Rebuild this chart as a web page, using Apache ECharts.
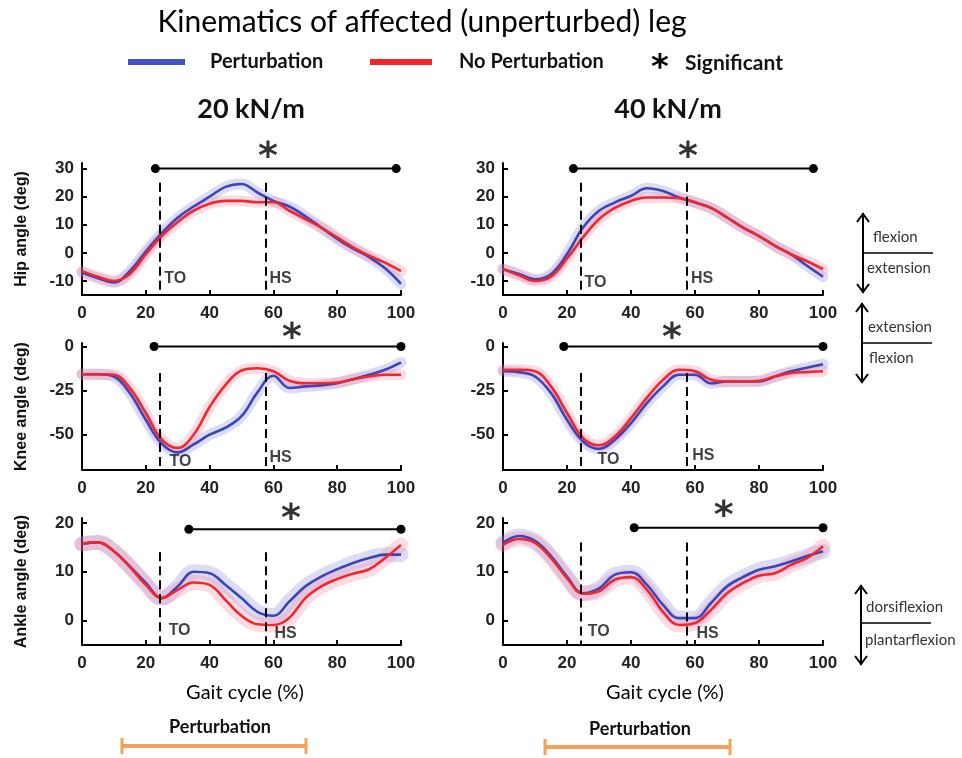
<!DOCTYPE html>
<html>
<head>
<meta charset="utf-8">
<title>Kinematics of affected (unperturbed) leg</title>
<script src="https://cdn.jsdelivr.net/npm/echarts@6/dist/echarts.min.js"></script>
<style>
html, body { margin: 0; padding: 0; background: #fff; }
#chart { width: 962px; height: 758px; }
</style>
</head>
<body>
<div id="chart"></div>
<script>
// gait cycle (%) sample points
var gaitX = [0, 5, 10, 15, 20, 25, 30, 35, 40, 45, 50, 55, 60, 65, 70, 75, 80, 85, 90, 95, 100];

// hip angle (deg)
var hip20Pert   = [-7, -9, -10.5, -6.5, 0.5, 7, 12.5, 16.5, 20, 23.5, 24.5, 21.5, 18.5, 16.5, 13, 9, 5, 1.5, -1.5, -5.5, -11];
var hip20NoPert = [-6.5, -8.5, -10, -7.5, -0.5, 6, 11, 15, 17.5, 18.5, 18.5, 18, 18, 15, 12, 9, 5.5, 2, -1, -3.5, -6.5];
var hip40Pert   = [-5.8, -7.5, -9.4, -7.6, -0.5, 9, 15, 18, 20.3, 23, 22, 19.7, 17.9, 16, 12.6, 9, 6, 2.5, -0.5, -4.6, -8.5];
var hip40NoPert = [-5.8, -8, -10, -8.5, -2, 5.5, 12, 16, 18.5, 19.7, 19.7, 19.5, 18, 16, 12.6, 9, 6, 2.5, -0.5, -3, -5.8];

// knee angle (deg)
var knee20Pert   = [-15.7, -15.7, -17, -26.4, -41.5, -55, -60, -55.5, -50, -46, -39.5, -26, -16.6, -23.5, -22.6, -22, -20.8, -18.5, -16, -13.2, -9];
var knee20NoPert = [-15.7, -15.7, -16, -23.6, -37.7, -52.8, -57.5, -50, -34.3, -21.7, -13.6, -12.3, -14, -19.4, -20.8, -20.8, -20.4, -18.5, -17, -16, -16];
var knee40Pert   = [-14, -14.5, -17, -26.4, -41.5, -53.8, -58, -52.8, -43.4, -32, -22.6, -16, -16, -20.8, -19.8, -19.8, -19.8, -17, -14, -12, -10];
var knee40NoPert = [-13.2, -13.2, -14, -22.6, -37.7, -51.9, -56, -51, -40.6, -29, -18.9, -13.2, -14, -18.9, -19.8, -19.8, -19.4, -17, -15, -14.5, -14];

// ankle angle (deg)
var ankle20Pert   = [15.7, 16, 14.2, 11.1, 7.7, 4.6, 7, 10, 9.7, 7.3, 4.6, 1.8, 1, 3.9, 7, 9, 10.5, 11.8, 12.8, 13.5, 13.5];
var ankle20NoPert = [15.7, 16, 14.2, 11, 7.3, 4.6, 6.3, 7.8, 7.3, 4.2, 1, -0.75, -0.9, 0.6, 4.6, 7, 8.5, 9.6, 10.5, 12.8, 15.5];
var ankle40Pert   = [15.9, 17.3, 16.3, 13.2, 9, 5.6, 6.6, 9.4, 9.9, 7.3, 3.2, 0.5, 0.5, 3.6, 7, 8.9, 10.4, 11.1, 12.1, 13.2, 14.2];
var ankle40NoPert = [15.5, 16.7, 15.9, 12.8, 8.7, 5.5, 6, 8.4, 8.9, 6.3, 1.8, -0.9, -0.5, 2.2, 5.6, 7.7, 9.2, 9.7, 11.4, 12.8, 15.2];

// significance bars: [start %, end %, level]
var hip20Sig = [23, 98.5, 30], hip40Sig = [22, 97, 30];
var knee20Sig = [22.6, 100, 0], knee40Sig = [19, 100, 0];
var ankle20Sig = [33.5, 100, 18.7], ankle40Sig = [41, 100, 19];

// toe-off / heel-strike (%)
var events20 = [24.5, 57.5], events40 = [24.2, 57.5];

// tick labels
var xTicks = [0, 20, 40, 60, 80, 100];
var hipTicks = [-10, 0, 10, 20, 30];
var kneeTicks = [-50, -25, 0];
var ankleTicks = [0, 10, 20];

var BLUE = '#3a45bb', RED = '#f2262b';
var chart = echarts.init(document.getElementById('chart'));

var panels = [
	{ grid: { left: 82, top: 163, width: 319, height: 132 }, min: -15, max: 32, ticks: hipTicks, name: 'Hip angle (deg)',
	  pert: hip20Pert, noPert: hip20NoPert, sig: hip20Sig, star: [58.3, 36.5], ev: events20, evTop: 25, band: 11,
	  evLabels: [[25.6, -9.3], [58.6, -9.3]] },
	{ grid: { left: 503, top: 163, width: 320, height: 132 }, min: -15, max: 32, ticks: hipTicks, name: '',
	  pert: hip40Pert, noPert: hip40NoPert, sig: hip40Sig, star: [57.8, 36.5], ev: events40, evTop: 25, band: 11,
	  evLabels: [[25.3, -10.5], [58.6, -9.3]] },
	{ grid: { left: 82, top: 343, width: 319, height: 127 }, min: -70, max: 2, ticks: kneeTicks, name: 'Knee angle (deg)',
	  pert: knee20Pert, noPert: knee20NoPert, sig: knee20Sig, star: [65.8, 8.5], ev: events20, evTop: -15, band: 11,
	  evLabels: [[27.3, -65], [58.6, -63]] },
	{ grid: { left: 503, top: 343, width: 320, height: 127 }, min: -70, max: 2, ticks: kneeTicks, name: '',
	  pert: knee40Pert, noPert: knee40NoPert, sig: knee40Sig, star: [52.8, 8.5], ev: events40, evTop: -15, band: 11,
	  evLabels: [[29.4, -64], [59, -62]] },
	{ grid: { left: 82, top: 518, width: 319, height: 127 }, min: -5, max: 21, ticks: ankleTicks, name: 'Ankle angle (deg)',
	  pert: ankle20Pert, noPert: ankle20NoPert, sig: ankle20Sig, star: [65.5, 22.3], ev: events20, evTop: 14, band: 15,
	  evLabels: [[27, -2], [60.2, -2.7]] },
	{ grid: { left: 503, top: 518, width: 320, height: 127 }, min: -5, max: 21, ticks: ankleTicks, name: '',
	  pert: ankle40Pert, noPert: ankle40NoPert, sig: ankle40Sig, star: [69, 22.9], ev: events40, evTop: 16, band: 15,
	  evLabels: [[26.3, -2.2], [60.3, -2.7]] }
];

function pairs(arr) {
	return gaitX.map(function (x, k) { return [x, arr[k]]; });
}

var axisLineStyle = { color: '#000', width: 2 };
var tickFont = { fontFamily: 'Liberation Sans', fontWeight: 'bold', fontSize: 17, color: '#222' };

var grids = [], xAxes = [], yAxes = [], series = [];
panels.forEach(function (p, i) {
	grids.push(p.grid);
	xAxes.push({
		gridIndex: i, type: 'value', min: 0, max: 100, interval: 20,
		axisLine: { show: true, onZero: false, lineStyle: axisLineStyle },
		axisTick: { show: true, inside: true, length: 5, lineStyle: axisLineStyle },
		axisLabel: Object.assign({ margin: 10 }, tickFont),
		splitLine: { show: false }
	});
	yAxes.push({
		gridIndex: i, type: 'value', min: p.min, max: p.max,
		axisLine: { show: true, onZero: false, lineStyle: axisLineStyle },
		axisTick: { show: true, inside: true, length: 5, lineStyle: axisLineStyle, customValues: p.ticks },
		axisLabel: Object.assign({ margin: 8, customValues: p.ticks }, tickFont),
		splitLine: { show: false },
		name: p.name, nameLocation: 'middle', nameGap: 52, nameRotate: 90,
		nameTextStyle: { fontFamily: 'Liberation Sans', fontWeight: 'bold', fontSize: 16, color: '#111' }
	});
	var base = { xAxisIndex: i, yAxisIndex: i, silent: true, animation: false };
	// translucent spread bands
	series.push(Object.assign({ type: 'line', data: pairs(p.pert), smooth: 0.4, symbol: 'none', z: 1,
		lineStyle: { color: 'rgba(125,120,215,0.26)', width: p.band, cap: 'round' } }, base));
	series.push(Object.assign({ type: 'line', data: pairs(p.noPert), smooth: 0.4, symbol: 'none', z: 1,
		lineStyle: { color: 'rgba(245,120,150,0.26)', width: p.band, cap: 'round' } }, base));
	// mean curves
	series.push(Object.assign({ type: 'line', name: 'Perturbation', data: pairs(p.pert), smooth: 0.4, symbol: 'none', z: 3,
		lineStyle: { color: BLUE, width: 2.6 } }, base));
	series.push(Object.assign({ type: 'line', name: 'No Perturbation', data: pairs(p.noPert), smooth: 0.4, symbol: 'none', z: 4,
		lineStyle: { color: RED, width: 2.6 },
		markLine: {
			silent: true, symbol: ['none', 'none'], label: { show: false },
			lineStyle: { color: '#000', type: [9, 5], width: 2 },
			data: [
				[{ coord: [p.ev[0], p.evTop] }, { coord: [p.ev[0], p.min] }],
				[{ coord: [p.ev[1], p.evTop] }, { coord: [p.ev[1], p.min] }]
			]
		} }, base));
	// significance bar
	series.push(Object.assign({ type: 'line', data: [[p.sig[0], p.sig[2]], [p.sig[1], p.sig[2]]], clip: false,
		symbol: 'circle', symbolSize: 9, showSymbol: true, z: 5,
		lineStyle: { color: '#000', width: 2 }, itemStyle: { color: '#000' } }, base));
	series.push(Object.assign({ type: 'scatter', data: [p.star], symbolSize: 1, clip: false, z: 6,
		itemStyle: { color: 'rgba(0,0,0,0)' },
		label: { show: true, position: 'inside', formatter: '*', fontFamily: 'DejaVu Sans', fontWeight: 'bold',
			fontSize: 38, color: '#000', offset: [0, 8] } }, base));
	// TO / HS labels
	series.push(Object.assign({ type: 'scatter', data: [p.evLabels[0].concat('TO'), p.evLabels[1].concat('HS')],
		symbolSize: 1, clip: false, z: 6, itemStyle: { color: 'rgba(0,0,0,0)' },
		label: { show: true, position: 'right', distance: 0, formatter: function (d) { return d.value[2]; },
			fontFamily: 'Liberation Sans', fontWeight: 'bold', fontSize: 16, color: '#111' } }, base));
});

function txt(x, y, s, size, weight, align, family, color) {
	return { type: 'text', x: x, y: y, silent: true,
		style: { text: s, fontSize: size, fontWeight: weight || 'normal', fontFamily: family || 'Lato',
			fill: color || '#111', align: align || 'left', verticalAlign: 'middle' } };
}
function seg(x1, y1, x2, y2, color, w) {
	return { type: 'line', silent: true, shape: { x1: x1, y1: y1, x2: x2, y2: y2 },
		style: { stroke: color || '#000', lineWidth: w || 2 } };
}
function arrow(x, top, bottom, mid) {
	return [
		seg(x, top, x, bottom),
		{ type: 'polyline', silent: true, shape: { points: [[x - 6, top + 9], [x, top + 1], [x + 6, top + 9]] }, style: { stroke: '#000', lineWidth: 2, fill: null } },
		{ type: 'polyline', silent: true, shape: { points: [[x - 6, bottom - 9], [x, bottom - 1], [x + 6, bottom - 9]] }, style: { stroke: '#000', lineWidth: 2, fill: null } },
		seg(x, mid, x + 70, mid, '#000', 1.5)
	];
}
var ORANGE = '#f5a05b';
var graphics = [
	txt(422, 22, 'Kinematics of affected (unperturbed) leg', 30, 'normal', 'center', 'Lato', '#000'),
	{ type: 'rect', silent: true, shape: { x: 128, y: 59, width: 57, height: 6 }, style: { fill: '#4252c4' } },
	txt(210, 62, 'Perturbation', 20, 'bold'),
	{ type: 'rect', silent: true, shape: { x: 370, y: 59, width: 62, height: 6 }, style: { fill: RED } },
	txt(459, 62, 'No Perturbation', 20, 'bold'),
	txt(660, 69, '*', 34, 'bold', 'center', 'DejaVu Sans', '#000'),
	txt(685, 63, 'Significant', 21, 'bold'),
	txt(251, 109, '20 kN/m', 27, 'bold', 'center'),
	txt(668, 109, '40 kN/m', 27, 'bold', 'center'),
	txt(245, 693, 'Gait cycle (%)', 20, 'normal', 'center', 'Lato', '#000'),
	txt(665, 693, 'Gait cycle (%)', 20, 'normal', 'center', 'Lato', '#000'),
	txt(220, 727, 'Perturbation', 18, 'bold', 'center'),
	seg(122, 746, 306, 746, ORANGE, 4), seg(122, 738, 122, 754, ORANGE, 3), seg(306, 738, 306, 754, ORANGE, 3),
	txt(640, 729, 'Perturbation', 18, 'bold', 'center'),
	seg(545, 747, 730, 747, ORANGE, 4), seg(545, 739, 545, 755, ORANGE, 3), seg(730, 739, 730, 755, ORANGE, 3),
	txt(873, 237, 'flexion', 15, 'normal', 'left', 'Lato', '#333'),
	txt(867, 268, 'extension', 15, 'normal', 'left', 'Lato', '#333'),
	txt(868, 327, 'extension', 15, 'normal', 'left', 'Lato', '#333'),
	txt(869, 358, 'flexion', 15, 'normal', 'left', 'Lato', '#333'),
	txt(866, 607, 'dorsiflexion', 15, 'normal', 'left', 'Lato', '#333'),
	txt(865, 640, 'plantarflexion', 15, 'normal', 'left', 'Lato', '#333')
].concat(arrow(863, 213, 293, 253), arrow(862, 303, 383, 343), arrow(861, 585, 665, 623));

var option = {
	backgroundColor: '#fff',
	animation: false,
	grid: grids,
	xAxis: xAxes,
	yAxis: yAxes,
	series: series,
	graphic: graphics
};
chart.setOption(option);
</script>
</body>
</html>
